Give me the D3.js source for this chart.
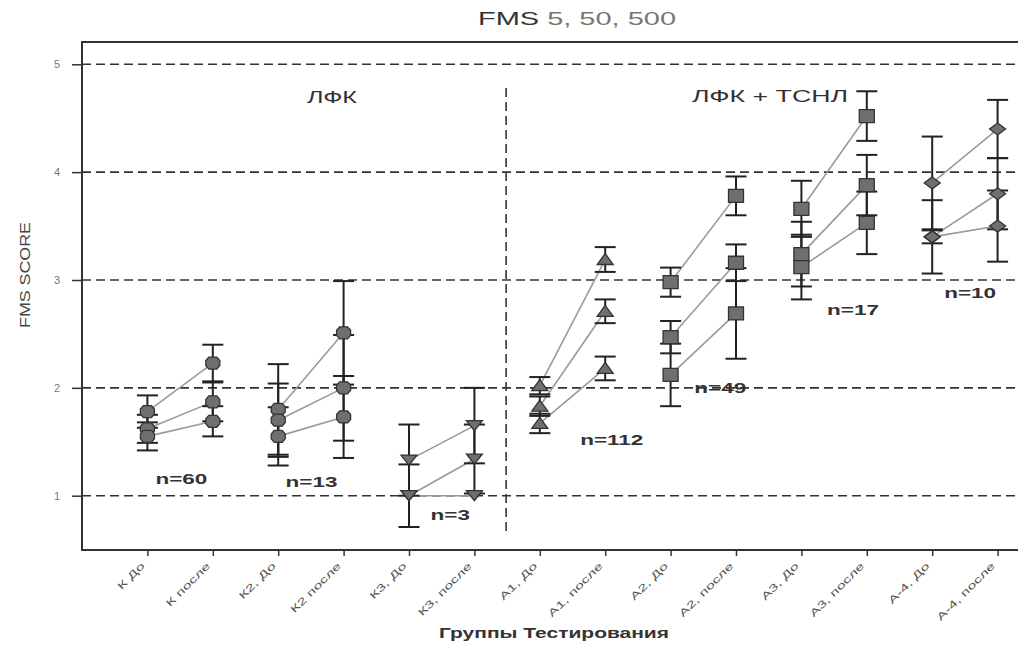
<!DOCTYPE html>
<html>
<head>
<meta charset="utf-8">
<script src="https://cdn.jsdelivr.net/npm/d3@7"></script>
<style>
html,body{margin:0;padding:0;background:#fff;}
svg{display:block;}
text{font-family:"Liberation Sans", Arial, sans-serif;}
</style>
</head>
<body>
<svg id="chart" width="1018" height="646"></svg>
<script>
// ---- data ----
const categories = ["К До", "К после", "К2, До", "К2 после", "К3, До", "К3, после",
  "А1, До", "А1, после", "А2, До", "А2, после", "А3, До", "А3, после", "А-4, До", "А-4, после"];
const groups = ["К","К","К2","К2","К3","К3","А1","А1","А2","А2","А3","А3","А4","А4"];
const series1 = [1.78, 2.23, 1.80, 2.51, 1.33, 1.65, 2.02, 3.19, 2.98, 3.78, 3.66, 4.52, 3.90, 4.40];
const series2 = [1.62, 1.87, 1.70, 2.00, 1.00, 1.34, 1.83, 2.71, 2.47, 3.16, 3.24, 3.88, 3.40, 3.80];
const series3 = [1.55, 1.69, 1.55, 1.73, 1.00, 1.00, 1.67, 2.18, 2.12, 2.69, 3.12, 3.53, 3.40, 3.50];
const errors1 = [0.15, 0.17, 0.42, 0.48, 0.33, 0.35, 0.08, 0.115, 0.135, 0.18, 0.26, 0.23, 0.43, 0.27];
const errors2 = [0.13, 0.18, 0.34, 0.49, 0.29, 0.32, 0.09, 0.11, 0.15, 0.17, 0.30, 0.28, 0.34, 0.33];
const errors3 = [0.13, 0.14, 0.27, 0.38, 0.00, 0.00, 0.09, 0.11, 0.29, 0.42, 0.30, 0.29, 0.06, 0.33];
const yTicks = [1, 2, 3, 4, 5];
const groupN = ["n=60", "n=13", "n=3", "n=112", "n=49", "n=17", "n=10"];
// annotation anchors in data space: [category index (fractional), score]
const nLabelAt = [[0.52, 1.16], [2.51, 1.13], [4.63, 0.82], [7.10, 1.52], [8.76, 2.00], [10.79, 2.72], [12.58, 2.88]];
const sectionLabels = ["ЛФК", "ЛФК + ТСНЛ"];

// ---- layout ----
const svg = d3.select("#chart");
const L = 82, T = 42, B = 550;
const x = d3.scalePoint().domain(categories).range([L, L + 65.4 * 15]).padding(1);
const step = x.step();
const xAt = f => x(categories[0]) + f * step;
const y = d3.scaleLinear().domain([1, 5]).range([495.7, 64.3]);

function stretch(sel, factor) {
  sel.each(function () {
    const w = this.getComputedTextLength();
    d3.select(this).attr("textLength", w * factor).attr("lengthAdjust", "spacingAndGlyphs");
  });
}

// title
const title = svg.append("text").attr("x", 577).attr("y", 25).attr("text-anchor", "middle")
  .style("font-size", "19px").attr("textLength", 198).attr("lengthAdjust", "spacingAndGlyphs");
title.append("tspan").attr("fill", "#333").text("FMS");
title.append("tspan").attr("fill", "#777").text(" 5, 50, 500");

// plot frame
svg.append("rect").attr("x", L).attr("y", T).attr("width", 1100).attr("height", B - T)
  .attr("fill", "none").attr("stroke", "#333").attr("stroke-width", 2);

// y axis
const yAxis = svg.append("g").attr("transform", `translate(${L},0)`)
  .call(d3.axisLeft(y).tickValues(yTicks).tickSize(10).tickPadding(12).tickFormat(d3.format("d")));
yAxis.select(".domain").remove();
yAxis.selectAll("line").attr("stroke", "#333").attr("stroke-width", 1.5);
yAxis.selectAll("text").attr("fill", "#777").style("font-size", "11px");

svg.append("text").attr("transform", "translate(30,275) rotate(-90)").attr("text-anchor", "middle")
  .attr("fill", "#444").style("font-size", "15px")
  .attr("textLength", 106).attr("lengthAdjust", "spacingAndGlyphs").text("FMS SCORE");

// x axis
const xAxis = svg.append("g").attr("transform", `translate(0,${B})`)
  .call(d3.axisBottom(x).tickSize(6).tickPadding(4));
xAxis.select(".domain").remove();
xAxis.selectAll("line").attr("stroke", "#333").attr("stroke-width", 1.5);
xAxis.selectAll("text").attr("fill", "#555").style("font-size", "10px")
  .attr("text-anchor", "end").attr("y", 0).attr("dy", "0.35em")
  .attr("transform", "translate(-5,14) rotate(-45)");
stretch(xAxis.selectAll("text"), 1.6);

svg.append("text").attr("x", 554).attr("y", 638).attr("text-anchor", "middle")
  .attr("fill", "#333").style("font-size", "15px").style("font-weight", "bold")
  .attr("textLength", 230).attr("lengthAdjust", "spacingAndGlyphs").text("Группы Тестирования");

// gridlines
svg.append("g").selectAll("line").data(yTicks).join("line")
  .attr("x1", L).attr("x2", 1018).attr("y1", d => y(d)).attr("y2", d => y(d))
  .attr("stroke", "#333").attr("stroke-width", 1.6).attr("stroke-dasharray", "9,5");

// section divider
const divX = (x(categories[5]) + x(categories[6])) / 2 - 1;
svg.append("line").attr("x1", divX).attr("x2", divX).attr("y1", 88).attr("y2", 536)
  .attr("stroke", "#333").attr("stroke-width", 1.6).attr("stroke-dasharray", "9,5");

svg.append("text").attr("x", 332).attr("y", 103).attr("text-anchor", "middle").attr("fill", "#333")
  .style("font-size", "16px").attr("textLength", 50).attr("lengthAdjust", "spacingAndGlyphs").text(sectionLabels[0]);
svg.append("text").attr("x", 770).attr("y", 102).attr("text-anchor", "middle").attr("fill", "#333")
  .style("font-size", "16px").attr("textLength", 156).attr("lengthAdjust", "spacingAndGlyphs").text(sectionLabels[1]);

// series data
const allSeries = [
  {vals: series1, errs: errors1},
  {vals: series2, errs: errors2},
  {vals: series3, errs: errors3}
];

// connecting lines (before -> after within each group)
const lineG = svg.append("g");
allSeries.forEach(s => {
  for (let i = 0; i < categories.length; i += 2) {
    lineG.append("line")
      .attr("x1", x(categories[i])).attr("y1", y(s.vals[i]))
      .attr("x2", x(categories[i + 1])).attr("y2", y(s.vals[i + 1]))
      .attr("stroke", "#9a9a9a").attr("stroke-width", 1.6);
  }
});

// error bars
const errG = svg.append("g").attr("stroke", "#222").attr("stroke-width", 2);
allSeries.forEach(s => {
  categories.forEach((c, i) => {
    const e = s.errs[i];
    if (e <= 0) return;
    const cx = x(c), lo = y(s.vals[i] - e), hi = y(s.vals[i] + e);
    errG.append("line").attr("x1", cx).attr("x2", cx).attr("y1", lo).attr("y2", hi);
    errG.append("line").attr("x1", cx - 10.5).attr("x2", cx + 10.5).attr("y1", lo).attr("y2", lo);
    errG.append("line").attr("x1", cx - 10.5).attr("x2", cx + 10.5).attr("y1", hi).attr("y2", hi);
  });
});

// markers
const symbolFor = {
  "К": "circle", "К2": "circle", "К3": "down", "А1": "up", "А2": "square", "А3": "square", "А4": "diamond"
};
function markerPath(kind) {
  switch (kind) {
    case "circle": return "M-4,-6 L4,-6 L7,-2.5 L7,2.5 L4,6 L-4,6 L-7,2.5 L-7,-2.5 Z";
    case "down": return "M-8,-5 L8,-5 L0,5 Z";
    case "up": return "M0,-6 L8,5 L-8,5 Z";
    case "square": return "M-7.5,-6.5 L7.5,-6.5 L7.5,6.5 L-7.5,6.5 Z";
    case "diamond": return "M0,-6 L8,0 L0,6 L-8,0 Z";
  }
}
const markG = svg.append("g");
allSeries.forEach(s => {
  categories.forEach((c, i) => {
    markG.append("path").attr("d", markerPath(symbolFor[groups[i]]))
      .attr("transform", `translate(${x(c)},${y(s.vals[i])})`)
      .attr("fill", "#6f6f6f").attr("stroke", "#333").attr("stroke-width", 1.3);
  });
});

// n labels
const nText = svg.append("g").selectAll("text").data(groupN).join("text")
  .attr("x", (d, i) => xAt(nLabelAt[i][0]))
  .attr("y", (d, i) => y(nLabelAt[i][1])).attr("dy", "0.35em").attr("text-anchor", "middle")
  .attr("fill", "#333").style("font-size", "15px").style("font-weight", "bold").text(d => d);
stretch(nText, 1.5);
</script>
</body>
</html>
